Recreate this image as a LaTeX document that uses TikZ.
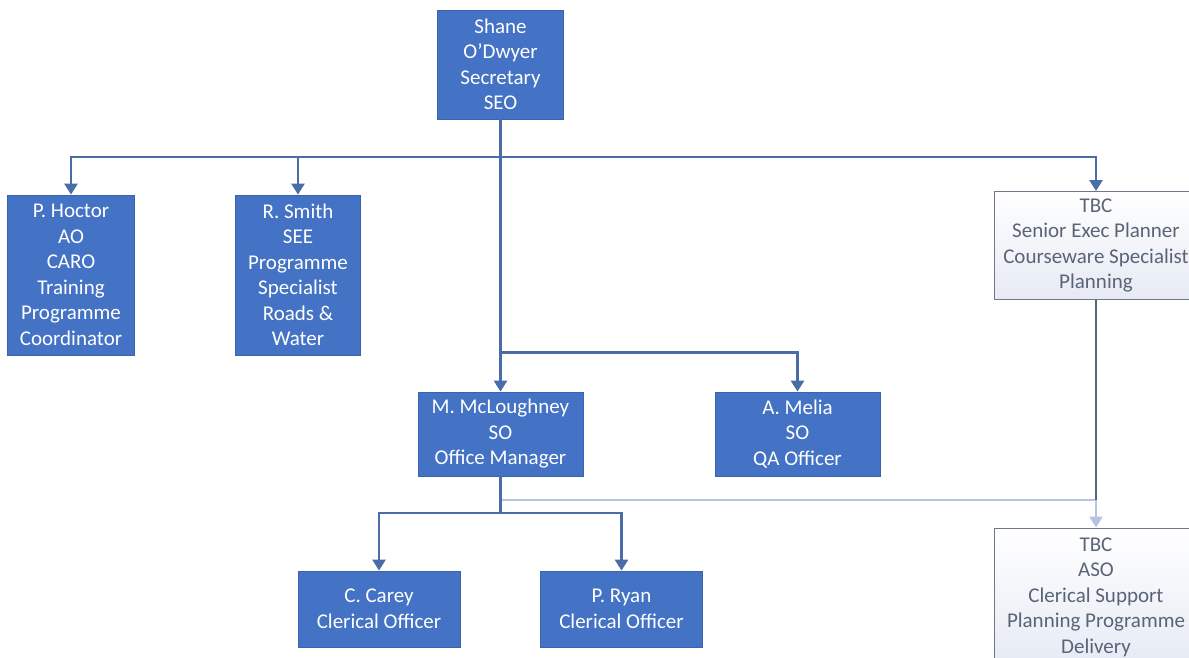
\documentclass[tikz,border=0pt]{standalone}
\usepackage{fontspec}
\setmainfont{Carlito}
\usetikzlibrary{arrows.meta}
\definecolor{boxblue}{HTML}{4472C4}
\definecolor{boxedge}{HTML}{3A64B0}
\definecolor{linkblue}{HTML}{4A6DA8}
\definecolor{linkdark}{HTML}{55657E}
\definecolor{linklight}{HTML}{B4C4E2}
\definecolor{tbcedge}{HTML}{6E7888}
\definecolor{tbctext}{HTML}{5A6478}
\definecolor{tbcfill}{HTML}{E6EAF4}
\tikzset{
  bluebox/.style={draw=boxedge, line width=0.8pt, fill=boxblue, text=white, inner sep=0pt, align=center,
    font=\fontsize{21}{25.5}\selectfont},
  tbcbox/.style={draw=tbcedge, line width=1pt, top color=white, bottom color=tbcfill, text=tbctext,
    inner sep=0pt, align=center, font=\fontsize{21}{25.5}\selectfont},
  link/.style={draw=linkblue, line width=2.6pt},
  linkarrow/.style={link, -{Triangle[width=13pt,length=11pt]}},
  darklink/.style={draw=linkdark, line width=2.6pt},
  lightlink/.style={draw=linklight, line width=2.6pt},
  lightarrow/.style={lightlink, -{Triangle[width=13pt,length=11pt]}}
}
\begin{document}
\begin{tikzpicture}[x=1pt,y=-1pt]
\useasboundingbox (0,0) rectangle (1189,657);
\clip (0,0) rectangle (1189,657);
\fill[white] (0,0) rectangle (1189,657);

% nodes
\node[bluebox, minimum width=126, minimum height=109] (shane) at (500.5,64.5) {Shane\\O’Dwyer\\Secretary\\SEO};
\node[bluebox, minimum width=127, minimum height=160] (hoctor) at (71,275) {P. Hoctor\\AO\\CARO\\Training\\Programme\\Coordinator};
\node[bluebox, minimum width=125, minimum height=160] (smith) at (298,275) {R. Smith\\SEE\\Programme\\Specialist\\Roads \&\\Water};
\node[tbcbox, minimum width=204, minimum height=108] (tbca) at (1096,245.5) {TBC\\Senior Exec Planner\\Courseware Specialist\\Planning};
\node[bluebox, minimum width=165, minimum height=84] (mcl) at (500.5,434) {M. McLoughney\\SO\\Office Manager};
\node[bluebox, minimum width=165, minimum height=84] (melia) at (797.5,434) {A. Melia\\SO\\QA Officer};
\node[bluebox, minimum width=162, minimum height=76] (carey) at (379,609) {C. Carey\\Clerical Officer};
\node[bluebox, minimum width=162, minimum height=76] (ryan) at (621.5,609) {P. Ryan\\Clerical Officer};
\node[tbcbox, minimum width=204, minimum height=138] (tbcb) at (1096,597) {TBC\\ASO\\Clerical Support\\Planning Programme\\Delivery};

% junctions
\coordinate (j1) at (500.5,157);
\coordinate (j2) at (500.5,352.5);
\coordinate (j3) at (500.5,513);
\coordinate (j4) at (500.5,500);
\coordinate (j5) at (1096,500);

% connectors
\draw[link] (shane.south) -- (j1);
\draw[linkarrow] (j1) -| (hoctor.north);
\draw[linkarrow] (j1) -| (smith.north);
\draw[linkarrow] (j1) -| (tbca.north);
\draw[link] (j1) -- (j2);
\draw[linkarrow] (j2) -- (mcl.north);
\draw[linkarrow] (j2) -| (melia.north);

\draw[lightlink] (j4) -- (j5);
\draw[lightarrow] (j5) -- (tbcb.north);
\draw[darklink] (tbca.south) -- (j5);

\draw[link] (mcl.south) -- (j3);
\draw[linkarrow] (j3) -| (carey.north);
\draw[linkarrow] (j3) -| (ryan.north);
\end{tikzpicture}
\end{document}
